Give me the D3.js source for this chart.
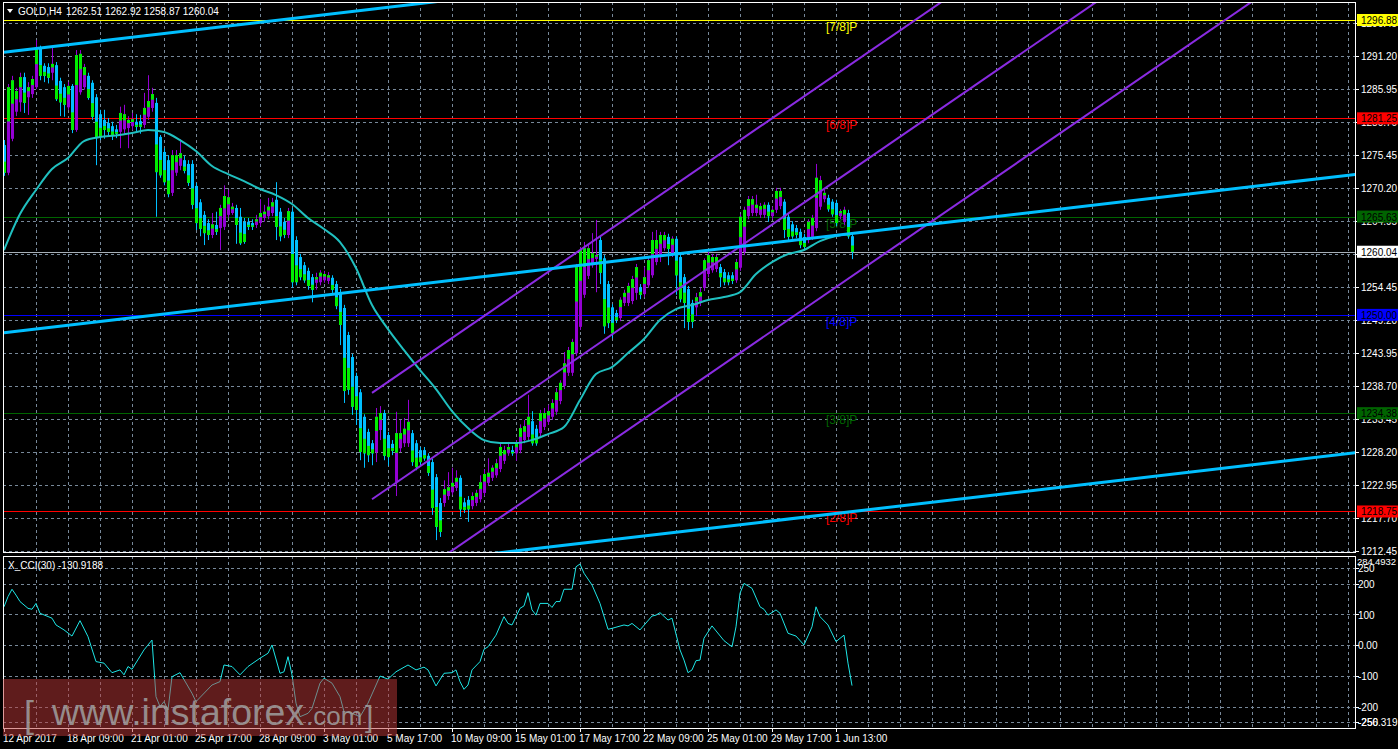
<!DOCTYPE html>
<html><head><meta charset="utf-8">
<script src="https://cdn.jsdelivr.net/npm/d3@7"></script>
<style>html,body{margin:0;padding:0;background:#000;overflow:hidden}text{font-family:"Liberation Sans",Arial,sans-serif}</style>
</head><body>
<svg id="c" width="1398" height="749"></svg>
<script>
// ---------- DATA ----------
const barOpen = [1277.0,1272.6,1278.0,1282.3,1283.8,1287.8,1284.6,1285.1,1286.2,1292.3,1289.6,1289.4,1288.5,1289.7,1287.2,1286.2,1283.0,1286.4,1279.4,1285.4,1286.2,1288.0,1286.9,1284.6,1281.9,1281.0,1280.5,1280.0,1279.5,1279.1,1279.5,1279.7,1280.0,1280.7,1280.8,1280.2,1281.5,1282.9,1283.7,1278.3,1275.9,1274.6,1269.4,1272.6,1273.7,1274.6,1274.0,1274.0,1270.5,1267.9,1265.9,1264.6,1262.7,1264.3,1263.8,1264.0,1265.9,1266.2,1267.0,1265.6,1264.8,1264.8,1264.6,1264.3,1264.6,1265.4,1265.7,1266.2,1268.3,1266.4,1264.8,1262.7,1266.4,1261.9,1259.2,1257.9,1257.0,1256.0,1255.1,1255.2,1255.5,1255.4,1255.9,1254.9,1253.6,1251.1,1246.8,1243.3,1240.3,1237.7,1233.8,1231.4,1229.6,1228.2,1231.7,1234.4,1230.9,1229.5,1223.4,1228.8,1229.6,1229.6,1231.2,1229.6,1228.5,1228.5,1227.6,1226.6,1224.2,1220.1,1220.1,1221.2,1221.8,1222.5,1224.1,1220.2,1220.6,1219.6,1220.1,1220.7,1221.7,1223.3,1224.1,1224.5,1225.5,1226.8,1228.0,1228.5,1228.0,1228.5,1230.1,1230.6,1233.1,1231.9,1231.2,1232.2,1233.0,1233.8,1234.6,1236.3,1238.7,1240.8,1240.8,1243.9,1248.1,1253.2,1256.2,1257.9,1258.9,1261.9,1259.0,1254.9,1251.2,1250.3,1249.5,1251.9,1251.9,1252.2,1253.5,1254.4,1253.3,1254.7,1256.3,1258.4,1259.2,1260.6,1262.4,1259.7,1262.1,1259.2,1256.0,1254.1,1251.9,1251.2,1251.9,1254.3,1256.5,1257.1,1257.3,1257.6,1256.8,1256.3,1256.3,1255.5,1257.5,1260.0,1265.7,1266.2,1266.2,1265.9,1265.9,1267.5,1265.7,1266.7,1267.3,1268.0,1265.6,1264.4,1263.8,1263.2,1262.4,1261.9,1262.4,1263.8,1267.2,1268.4,1268.6,1268.0,1267.8,1265.7,1264.8,1266.2,1262.51];
const barHigh = [1277.8,1286.7,1288.0,1286.1,1288.5,1288.5,1287.0,1288.0,1293.7,1292.8,1290.0,1290.0,1292.6,1290.2,1287.7,1286.7,1287.0,1286.7,1292.1,1292.1,1289.9,1288.5,1287.3,1285.1,1282.6,1282.6,1281.3,1280.7,1280.2,1283.1,1283.4,1281.6,1282.1,1281.9,1281.8,1285.3,1288.1,1286.1,1284.5,1278.6,1276.5,1275.4,1276.2,1276.2,1277.9,1275.3,1274.6,1274.6,1271.0,1268.4,1266.5,1265.2,1266.2,1266.4,1267.5,1270.6,1269.9,1267.8,1267.5,1267.0,1265.4,1265.4,1265.2,1265.9,1268.4,1267.5,1268.6,1268.6,1271.1,1267.0,1265.4,1267.0,1267.0,1262.5,1259.7,1258.4,1257.5,1256.5,1256.7,1257.1,1257.0,1256.8,1256.3,1255.4,1254.1,1251.6,1247.3,1243.8,1240.8,1238.2,1234.2,1231.9,1230.1,1235.2,1235.5,1234.9,1231.4,1230.1,1234.6,1233.3,1233.6,1236.5,1231.7,1230.1,1229.0,1229.0,1228.0,1227.1,1224.7,1220.9,1223.7,1225.0,1225.7,1225.3,1224.5,1220.9,1221.2,1221.8,1222.2,1224.5,1225.5,1227.2,1226.1,1227.1,1229.6,1229.2,1229.8,1229.2,1230.1,1232.6,1233.3,1237.3,1234.7,1232.5,1234.9,1235.2,1235.7,1236.6,1238.4,1239.6,1244.1,1244.9,1246.2,1258.1,1260.8,1261.6,1261.1,1263.0,1265.1,1262.4,1259.5,1255.4,1251.7,1250.8,1252.8,1254.0,1255.1,1256.2,1258.1,1254.9,1257.6,1259.2,1263.2,1263.5,1263.2,1263.2,1262.9,1262.5,1262.5,1259.7,1256.5,1254.6,1252.4,1253.5,1254.3,1259.0,1260.0,1259.7,1259.7,1258.1,1257.3,1256.8,1256.8,1258.9,1266.0,1267.2,1268.9,1268.9,1269.1,1267.8,1267.9,1267.9,1267.2,1270.2,1270.2,1268.4,1266.0,1264.9,1264.3,1263.7,1262.9,1265.2,1265.9,1274.0,1272.1,1269.9,1269.1,1268.4,1268.3,1266.8,1267.2,1266.7,1262.92];
const barLow = [1272.1,1272.2,1277.6,1281.6,1282.3,1282.1,1281.8,1284.5,1285.9,1287.3,1287.0,1286.8,1287.3,1284.0,1281.6,1281.5,1282.6,1278.9,1279.1,1285.0,1285.8,1284.2,1281.0,1273.8,1277.8,1278.0,1278.3,1277.8,1278.1,1276.5,1278.6,1276.5,1279.4,1279.2,1278.8,1279.7,1281.0,1282.3,1265.6,1271.8,1270.6,1268.7,1268.9,1272.1,1273.0,1272.5,1270.5,1266.8,1263.5,1262.5,1261.1,1261.9,1262.2,1262.7,1260.3,1263.5,1265.4,1265.9,1261.3,1261.1,1261.3,1263.5,1263.5,1263.8,1264.1,1264.8,1265.2,1265.7,1261.9,1261.7,1262.2,1262.2,1254.3,1254.7,1255.5,1255.1,1254.0,1252.0,1254.0,1254.7,1255.1,1254.9,1253.5,1250.9,1245.2,1236.0,1237.3,1234.1,1232.5,1226.9,1225.7,1226.6,1226.1,1226.6,1230.1,1226.9,1226.0,1227.7,1221.2,1228.2,1229.0,1229.0,1226.0,1225.3,1226.1,1226.8,1224.4,1218.2,1214.2,1214.7,1219.5,1220.6,1221.4,1222.0,1217.9,1218.5,1217.1,1219.1,1219.6,1220.2,1221.2,1222.8,1223.6,1224.1,1225.0,1226.3,1227.6,1227.6,1226.8,1228.0,1229.6,1230.1,1229.2,1229.2,1230.7,1231.7,1232.5,1233.3,1234.1,1235.8,1238.2,1240.3,1240.3,1243.5,1247.6,1252.7,1255.7,1257.5,1253.6,1254.9,1247.0,1247.9,1246.3,1248.7,1249.0,1251.4,1251.4,1251.7,1252.4,1252.5,1252.8,1254.3,1255.9,1257.9,1258.4,1260.2,1257.9,1259.2,1253.2,1252.0,1247.9,1247.6,1247.9,1249.8,1251.4,1253.8,1256.0,1256.7,1256.8,1254.4,1254.7,1254.7,1254.9,1255.1,1257.0,1259.5,1265.2,1265.7,1265.7,1265.4,1265.4,1264.8,1265.2,1266.2,1266.8,1262.2,1261.6,1262.1,1262.2,1260.6,1260.3,1261.4,1261.9,1263.3,1266.7,1267.9,1266.4,1265.6,1264.1,1265.2,1264.3,1262.1,1258.87];
const barClose = [1272.6,1286.2,1287.3,1285.6,1287.8,1283.7,1286.2,1287.5,1292.3,1288.0,1288.0,1287.7,1289.9,1284.3,1283.8,1283.4,1286.4,1279.4,1291.3,1291.5,1289.4,1284.5,1281.5,1278.1,1278.3,1279.4,1279.1,1278.6,1278.8,1282.1,1281.9,1281.0,1281.1,1279.9,1279.9,1282.9,1284.0,1285.1,1272.7,1272.2,1271.1,1269.2,1275.4,1275.4,1275.7,1272.9,1271.0,1267.5,1264.6,1263.7,1263.0,1262.7,1264.4,1263.2,1267.0,1268.9,1268.7,1267.2,1264.3,1261.4,1261.6,1264.0,1264.0,1265.2,1266.2,1266.4,1267.2,1267.9,1264.0,1262.5,1262.7,1266.5,1255.2,1255.2,1256.0,1255.5,1254.6,1254.0,1256.0,1256.7,1256.5,1256.3,1254.0,1251.4,1248.4,1237.9,1238.1,1235.4,1234.9,1228.2,1228.0,1227.7,1228.0,1233.8,1234.4,1227.6,1227.4,1228.4,1231.2,1231.2,1231.9,1233.0,1226.6,1225.8,1226.6,1227.2,1224.9,1219.3,1216.3,1215.5,1222.3,1222.6,1223.3,1224.1,1219.1,1219.0,1219.1,1221.2,1221.7,1223.4,1224.7,1224.9,1225.7,1226.4,1229.0,1228.5,1229.0,1228.0,1229.6,1232.0,1232.3,1233.8,1229.6,1229.6,1234.4,1234.4,1234.7,1236.0,1237.7,1239.2,1242.3,1244.4,1245.7,1257.6,1260.3,1260.6,1260.6,1259.8,1259.5,1256.7,1248.2,1248.7,1247.1,1249.2,1252.4,1253.5,1254.6,1255.7,1257.6,1253.2,1256.0,1258.7,1261.9,1261.9,1262.7,1262.7,1260.5,1262.1,1256.3,1252.5,1251.9,1248.9,1248.9,1252.8,1253.6,1258.7,1259.5,1259.2,1259.2,1256.0,1255.2,1255.2,1255.4,1258.4,1265.6,1266.7,1268.4,1268.4,1267.5,1267.3,1267.5,1265.7,1266.7,1269.7,1269.7,1263.5,1262.4,1262.5,1262.7,1261.1,1260.8,1264.8,1265.4,1271.8,1271.4,1269.4,1266.8,1266.0,1264.6,1266.5,1266.7,1262.5,1260.04];

const maBar = [0,4,8,12,16,20,24,28,32,36,40,44,48,52,56,60,64,68,72,76,80,84,88,92,96,100,104,108,112,116,120,124,128,132,136,140,144,148,152,156,160,164,168,172,176,180,184,188,192,196,200,204,208,212];
const maValue = [1260.31,1266.03,1269.85,1273.19,1274.94,1277.64,1278.28,1278.52,1278.91,1279.39,1279.07,1277.80,1276.05,1273.67,1272.39,1271.28,1270.01,1269.05,1267.62,1265.40,1263.65,1261.58,1257.45,1251.56,1247.75,1244.41,1241.23,1238.21,1234.71,1232.01,1230.10,1229.62,1229.62,1230.10,1231.05,1232.17,1236.46,1240.59,1241.71,1243.93,1246.16,1249.18,1250.93,1251.56,1252.36,1252.84,1253.63,1256.49,1258.40,1259.67,1260.31,1261.74,1262.54,1262.85];

const cciBar = [0,1,2,3,4,6,7,8,9,12,13,15,17,19,21,23,25,27,29,30,31,32,35,37,38,39,40,41,42,44,47,48,52,54,55,57,59,61,64,66,67,69,70,71,72,73,74,76,77,79,80,82,84,85,87,89,91,94,96,98,101,103,105,106,108,110,112,113,114,115,116,117,119,120,121,123,125,126,127,129,130,131,132,133,134,136,137,138,139,140,142,143,144,145,147,149,151,152,155,156,157,159,162,163,164,166,167,169,170,171,172,173,174,175,177,180,182,183,184,185,187,189,190,191,193,194,196,198,200,202,203,204,206,208,210,211,212];
const cciValue = [125,158,182,163,142,120,117,136,104,88,66,50,30,80,28,-53,-58,-89,-80,-96,-69,-78,-15,17,-167,-199,-183,-210,-102,-89,-156,-183,-129,-118,-64,-69,-96,-69,-42,-26,1,-91,-86,-37,-96,-188,-232,-221,-205,-123,-107,-123,-167,-216,-221,-232,-188,-100,-110,-86,-64,-80,-71,-80,-132,-91,-89,-80,-118,-143,-129,-80,-53,-13,-5,33,93,71,66,120,128,171,115,98,136,136,123,142,142,182,182,255,264,234,196,136,52,55,66,63,71,50,95,98,106,82,88,-15,-48,-89,-80,-50,-48,23,63,15,-5,60,169,201,185,125,117,98,115,104,39,30,1,60,125,93,66,12,33,-58,-130.9188];
const cciMax = 284.4932, cciMin = -256.319;

const priceTicks = [1212.45,1217.70,1222.95,1228.20,1233.45,1238.70,1243.95,1249.20,1254.45,1259.70,1264.95,1270.20,1275.45,1280.70,1285.95,1291.20,1296.45];
const cciTicks = [250,200,100,0,-100,-200,-250];
const cciTickLabels = ["250","200","100","0.00","-100","-200","-250"];

const timeTickBars = [0,16,32,48,64,80,96,112,128,144,160,176,192,208];
const timeTickLabels = ["12 Apr 2017","18 Apr 09:00","21 Apr 01:00","25 Apr 17:00","28 Apr 09:00","3 May 01:00","5 May 17:00","10 May 09:00","15 May 01:00","17 May 17:00","22 May 09:00","25 May 01:00","29 May 17:00","1 Jun 13:00"];

const levelPrices = [1296.88,1281.25,1265.63,1250.00,1234.38,1218.75];
const levelNames = ["[7/8]P","[6/8]P","[5/8]P","[4/8]P","[3/8]P","[2/8]P"];
const lastPrice = 1260.04;

// trend lines: [barIndex, price] endpoints
const cyanLines = [[[0,1291.76],[338,1316.9]],[[0,1247.17],[338,1272.35]],[[100,1210.4],[338,1228.1]]];
const purpleLines = [[[92,1237.6],[240,1302.2]],[[92,1220.7],[300,1311.5]],[[92,1203.8],[320,1303.3]]];

const title = "GOLD,H4";
const titleValues = "1262.51 1262.92 1258.87 1260.04";
const cciTitle = "X_CCI(30) -130.9188";

// ---------- STYLE ----------
const levelColors = ["#ffff00","#ff0000","#006400","#0000ff","#006400","#ff0000"];
const BULL = "#9400d3", BEAR = "#00bfff", LIME = "#00ee00";
const GRID = "#778899";
const L = 3, R = 1355, MT = 2, MB = 552, CT = 556, CB = 728;

const svg = d3.select("#c");
svg.append("rect").attr("width",1398).attr("height",749).attr("fill","#000");

const x = d3.scaleLinear().domain([0,212]).range([4,852]);
const y = d3.scaleLinear().domain([1212.45,1296.88]).range([551.1,20.0]);
const yc = d3.scaleLinear().domain([cciMin,cciMax]).range([724.2,557.7]);

const defs = svg.append("defs");
defs.append("clipPath").attr("id","mc").append("rect").attr("x",L).attr("y",MT).attr("width",R-L).attr("height",MB-MT);
defs.append("clipPath").attr("id","cc").append("rect").attr("x",L).attr("y",CT).attr("width",R-L).attr("height",CB-CT);

const main = svg.append("g").attr("clip-path","url(#mc)");
const sub = svg.append("g").attr("clip-path","url(#cc)");

// vertical grid
const vBars = d3.range(8, 340, 8);
[[main,MT,MB],[sub,CT,CB]].forEach(([g,t,b])=>{
  g.selectAll(null).data(vBars).enter().append("line")
    .attr("x1",d=>Math.round(x(d))+0.5).attr("x2",d=>Math.round(x(d))+0.5)
    .attr("y1",t).attr("y2",b).attr("stroke",GRID).attr("stroke-dasharray","3,3");
});
// horizontal grid
main.selectAll(null).data(priceTicks).enter().append("line")
  .attr("x1",L).attr("x2",R).attr("y1",d=>Math.round(y(d))+0.5).attr("y2",d=>Math.round(y(d))+0.5)
  .attr("stroke",GRID).attr("stroke-dasharray","3,3");
sub.selectAll(null).data(cciTicks).enter().append("line")
  .attr("x1",L).attr("x2",R).attr("y1",d=>Math.round(yc(d))+0.5).attr("y2",d=>Math.round(yc(d))+0.5)
  .attr("stroke",GRID).attr("stroke-dasharray","3,3");

// level lines
main.selectAll(null).data(levelPrices).enter().append("line")
  .attr("x1",L).attr("x2",R).attr("y1",d=>Math.round(y(d))+0.5).attr("y2",d=>Math.round(y(d))+0.5)
  .attr("stroke",(d,i)=>levelColors[i]).attr("stroke-width",1);
main.append("line").attr("x1",L).attr("x2",R)
  .attr("y1",Math.round(y(lastPrice))+0.5).attr("y2",Math.round(y(lastPrice))+0.5)
  .attr("stroke","#a8b0b8");
main.selectAll(null).data(levelNames).enter().append("text")
  .attr("x",826).attr("y",(d,i)=>y(levelPrices[i])+11)
  .attr("fill",(d,i)=>levelColors[i]).attr("font-size","12px").text(d=>d);

// candles
const idx = d3.range(barClose.length);
const cg = main.append("g");
idx.forEach(i=>{
  const cx = Math.round(x(i));
  const up = barClose[i] >= barOpen[i];
  const col = up ? BULL : BEAR;
  cg.append("line").attr("x1",cx+0.5).attr("x2",cx+0.5)
    .attr("y1",y(barHigh[i])).attr("y2",y(barLow[i])).attr("stroke",col);
  const top = y(Math.max(barOpen[i],barClose[i]));
  const bot = y(Math.min(barOpen[i],barClose[i]));
  const h = Math.max(1, bot-top);
  cg.append("rect").attr("x",cx-1).attr("y",top).attr("width",3).attr("height",h).attr("fill",col);
  const lh = Math.max(1, h*0.4);
  const ly = up ? top : top + h - lh;
  cg.append("rect").attr("x",cx-1).attr("y",ly).attr("width",3).attr("height",lh).attr("fill",LIME);
});

// MA line
main.append("path").datum(maBar)
  .attr("d", d3.line().x(d=>x(d)).y((d,i)=>y(maValue[i])).curve(d3.curveMonotoneX))
  .attr("fill","none").attr("stroke","#20c0c0").attr("stroke-width",2);

// trend lines
const tl = d3.line().x(d=>x(d[0])).y(d=>y(d[1]));
main.selectAll(null).data(purpleLines).enter().append("path")
  .attr("d",tl).attr("stroke","#8a2be2").attr("stroke-width",2).attr("fill","none");
main.selectAll(null).data(cyanLines).enter().append("path")
  .attr("d",tl).attr("stroke","#00bfff").attr("stroke-width",3).attr("fill","none");

// CCI
sub.append("path").datum(cciBar)
  .attr("d", d3.line().x(d=>x(d)).y((d,i)=>yc(cciValue[i])))
  .attr("fill","none").attr("stroke","#1ee6e6").attr("stroke-width",1);

// panel borders
svg.append("rect").attr("x",L+0.5).attr("y",MT+0.5).attr("width",R-L).attr("height",MB-MT)
  .attr("fill","none").attr("stroke","#fff");
svg.append("rect").attr("x",L+0.5).attr("y",CT+0.5).attr("width",R-L).attr("height",CB-CT)
  .attr("fill","none").attr("stroke","#fff");

// price axis
const ax = svg.append("g");
ax.selectAll(null).data(priceTicks).enter().append("line")
  .attr("x1",R).attr("x2",R+4).attr("y1",d=>Math.round(y(d))+0.5).attr("y2",d=>Math.round(y(d))+0.5).attr("stroke","#fff");
ax.selectAll(null).data(priceTicks).enter().append("text")
  .attr("x",R+6).attr("y",d=>y(d)+4).attr("fill","#fff").attr("font-size","10px").text(d=>d.toFixed(2));
const boxP = levelPrices.concat([lastPrice]);
const boxC = levelColors.concat(["#ffffff"]);
ax.selectAll(null).data(boxP).enter().append("rect")
  .attr("x",R+2).attr("y",d=>y(d)-6).attr("width",45).attr("height",12).attr("fill",(d,i)=>boxC[i]);
ax.selectAll(null).data(boxP).enter().append("text")
  .attr("x",R+6).attr("y",d=>y(d)+4).attr("fill","#000").attr("font-size","10px").text(d=>d.toFixed(2));

// cci axis
ax.selectAll(null).data(cciTicks).enter().append("line")
  .attr("x1",R).attr("x2",R+4).attr("y1",d=>Math.round(yc(d))+0.5).attr("y2",d=>Math.round(yc(d))+0.5).attr("stroke","#fff");
ax.selectAll(null).data(cciTicks).enter().append("text")
  .attr("x",R+3).attr("y",d=>yc(d)+4).attr("fill","#fff").attr("font-size","10px").text((d,i)=>cciTickLabels[i]);
ax.append("text").attr("x",R+2).attr("y",yc(cciMax)+7).attr("fill","#fff").attr("font-size","9.5px").attr("textLength",39).text(cciMax.toFixed(4));
ax.append("text").attr("x",R+3).attr("y",yc(cciMin)+2).attr("fill","#fff").attr("font-size","10px").text(cciMin.toFixed(3));

// time axis
ax.selectAll(null).data(timeTickBars).enter().append("line")
  .attr("x1",d=>Math.round(x(d))+0.5).attr("x2",d=>Math.round(x(d))+0.5).attr("y1",CB).attr("y2",CB+4).attr("stroke","#fff");
ax.selectAll(null).data(timeTickBars).enter().append("text")
  .attr("x",d=>x(d)-1).attr("y",742).attr("fill","#fff").attr("font-size","10px").text((d,i)=>timeTickLabels[i]);

// titles
svg.append("path").attr("d","M7,9 L13,9 L10,13 Z").attr("fill","#fff");
svg.append("text").attr("x",18).attr("y",15).attr("fill","#fff").attr("font-size","10px").text(title);
svg.append("text").attr("x",66).attr("y",15).attr("fill","#fff").attr("font-size","10px").text(titleValues);
svg.append("text").attr("x",8).attr("y",569).attr("fill","#fff").attr("font-size","10px").text(cciTitle);

// watermark
const wm = svg.append("g");
wm.append("rect").attr("x",3).attr("y",679).attr("width",394).attr("height",57).attr("fill","rgba(190,55,55,0.5)");
wm.append("text").attr("x",24).attr("y",727).attr("font-size","36px").attr("fill","#a0a0a0").attr("fill-opacity",0.85).text("[");
wm.append("text").attr("x",52).attr("y",725).attr("font-size","37.5px").attr("fill","#a0a0a0").attr("fill-opacity",0.85).text("www.instaforex");
wm.append("text").attr("x",306).attr("y",725).attr("font-size","26px").attr("fill","#a0a0a0").attr("fill-opacity",0.85).text(".com");
wm.append("text").attr("x",365).attr("y",727).attr("font-size","30px").attr("fill","#a0a0a0").attr("fill-opacity",0.85).text("]");
</script>
</body></html>
